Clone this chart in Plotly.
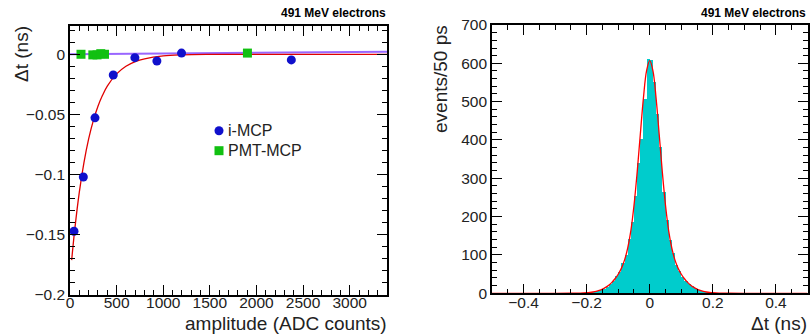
import plotly.graph_objects as go

# ---------------- data: left panel ----------------
imcp_amp = [43, 143, 268, 464, 696, 932, 1196, 2374]
imcp_dt = [-0.147, -0.102, -0.0528, -0.0172, -0.0028, -0.0056, 0.001, -0.0047]

pmt_amp = [118, 245, 290, 330, 370, 1903]
pmt_dt = [0.0, -0.0005, -0.0005, 0.0005, 0.0, 0.001]

fit_amp = [18, 50, 100, 150, 200, 250, 300, 350, 400, 500, 600, 700, 800, 1000, 1200, 1500, 2000, 3400]
fit_dt = [-0.171, -0.1463, -0.1146, -0.0898, -0.0703, -0.0551, -0.0432, -0.0339, -0.0265,
          -0.0163, -0.0100, -0.0061, -0.0038, -0.0014, -0.0005, -0.0001, 0.0, 0.0]

pmt_fit_amp = [0, 3400]
pmt_fit_dt = [0.0, 0.0022]

legend_labels = ["i-MCP", "PMT-MCP"]

# ---------------- data: right panel ----------------
bin_centers = [-0.195, -0.185, -0.175, -0.165, -0.155, -0.145, -0.135, -0.125, -0.115, -0.105,
               -0.095, -0.085, -0.075, -0.065, -0.055, -0.045, -0.035, -0.025, -0.015, -0.005,
               0.005, 0.015, 0.025, 0.035, 0.045, 0.055, 0.065, 0.075, 0.085, 0.095,
               0.105, 0.115, 0.125, 0.135, 0.145, 0.155, 0.165, 0.175, 0.185, 0.195]
bin_counts = [2, 3, 4, 6, 9, 12, 17, 24, 33, 46,
              55, 78, 100, 142, 185, 254, 340, 402, 507, 612,
              610, 552, 468, 383, 265, 190, 138, 104, 74, 57,
              42, 33, 24, 18, 13, 9, 6, 4, 3, 2]

hfit_x = [-0.5, -0.3, -0.25, -0.22, -0.20, -0.19, -0.18, -0.17, -0.16, -0.15, -0.14, -0.13, -0.12,
          -0.11, -0.10, -0.09, -0.08, -0.07, -0.06, -0.05, -0.04, -0.03, -0.02, -0.01, 0.0,
          0.01, 0.02, 0.03, 0.04, 0.05, 0.06, 0.07, 0.08, 0.09, 0.10, 0.11, 0.12, 0.13,
          0.14, 0.15, 0.16, 0.17, 0.18, 0.19, 0.20, 0.22, 0.25, 0.3, 0.5]
hfit_y = [0, 0, 0.1, 0.5, 1.4, 2.2, 3.4, 5.1, 7.6, 10.9, 15.4, 21.2, 28.6,
          38, 49.7, 65, 86.5, 117.5, 163, 229, 315, 414, 510, 581, 607,
          581, 510, 414, 315, 229, 163, 117.5, 86.5, 65, 49.7, 38, 28.6, 21.2,
          15.4, 10.9, 7.6, 5.1, 3.4, 2.2, 1.4, 0.5, 0.1, 0, 0]

FONT = "Liberation Sans, Arial, Helvetica, sans-serif"
W, H = 810, 335
BLUE = "#1010cc"
GREEN = "#11c011"

fig = go.Figure()

fig.add_trace(go.Scatter(x=pmt_fit_amp, y=pmt_fit_dt, mode="lines",
                         line=dict(color="#9966ff", width=2), showlegend=False,
                         xaxis="x", yaxis="y"))
fig.add_trace(go.Scatter(x=fit_amp, y=fit_dt, mode="lines", line_shape="spline",
                         line=dict(color="#e00000", width=1.3), showlegend=False,
                         xaxis="x", yaxis="y"))
fig.add_trace(go.Scatter(x=imcp_amp, y=imcp_dt, mode="markers", name=legend_labels[0],
                         marker=dict(color=BLUE, size=9, symbol="circle"),
                         showlegend=False, xaxis="x", yaxis="y"))
fig.add_trace(go.Scatter(x=pmt_amp, y=pmt_dt, mode="markers", name=legend_labels[1],
                         marker=dict(color=GREEN, size=9, symbol="square"),
                         showlegend=False, xaxis="x", yaxis="y"))

fig.add_trace(go.Bar(x=bin_centers, y=bin_counts, width=0.01,
                     marker=dict(color="#00cccc", line=dict(width=0)),
                     showlegend=False, xaxis="x2", yaxis="y2"))
fig.add_trace(go.Scatter(x=hfit_x, y=hfit_y, mode="lines", line_shape="spline",
                         line=dict(color="#ff0000", width=1.3), showlegend=False,
                         xaxis="x2", yaxis="y2"))

def ax(domain, rng, dtick, minor_dtick, anchor, standoff=0):
    return dict(domain=domain, range=rng, dtick=dtick, tick0=0, automargin=False,
                ticks="inside", ticklen=10, tickwidth=1.2, tickcolor="black",
                minor=dict(dtick=minor_dtick, ticks="inside", ticklen=5,
                           tickwidth=1.2, tickcolor="black"),
                showline=True, linecolor="black", linewidth=1.6, mirror="allticks",
                showgrid=False, zeroline=False, anchor=anchor,
                ticklabelstandoff=standoff,
                tickfont=dict(family=FONT, size=15.5, color="#222"))

fig.update_layout(
    width=W, height=H, margin=dict(l=0, r=0, t=0, b=0, autoexpand=False),
    paper_bgcolor="white", plot_bgcolor="white",
    bargap=0, showlegend=False,
    xaxis=ax([70 / W, 387 / W], [0, 3400], 500, 100, "y", -7),
    yaxis=ax([1 - 295 / H, 1 - 26 / H], [-0.2, 0.0235], 0.05, 0.01, "x"),
    xaxis2=ax([492 / W, 807.5 / W], [-0.5, 0.5], 0.2, 0.05, "y2", -6),
    yaxis2=ax([1 - 293.3 / H, 1 - 25 / H], [0, 700], 100, 20, "x2"),
)

# legend symbols (paper coords)
def px(x): return x / W
def py(y): return 1 - y / H
shapes = [
    dict(type="circle", xref="paper", yref="paper", x0=px(214.5), x1=px(223.5),
         y0=py(135.2), y1=py(126.2), fillcolor=BLUE, line=dict(width=0)),
    dict(type="rect", xref="paper", yref="paper", x0=px(214.5), x1=px(223.5),
         y0=py(155.2), y1=py(146.2), fillcolor=GREEN, line=dict(width=0)),
]
fig.update_layout(shapes=shapes)

ann = []
def txt(x, y, s, size, xanchor="center", angle=0, bold=False):
    ann.append(dict(x=x / W, y=1 - y / H, xref="paper", yref="paper", text=s,
                    showarrow=False, xanchor=xanchor, yanchor="middle", textangle=angle,
                    font=dict(family=FONT, size=size, color="#222" if not bold else "black")))

txt(226, 130.7, legend_labels[0], 16, "left")
txt(226, 150.7, legend_labels[1], 16, "left")
txt(388, 13, "<b>491 MeV electrons</b>", 12, "right", bold=True)
txt(808, 13, "<b>491 MeV electrons</b>", 12, "right", bold=True)
txt(389, 323, "amplitude (ADC counts)", 19, "right")
txt(809, 323, "Δt (ns)", 19, "right")
txt(21, 54, "Δt (ns)", 19, "center", angle=-90)
txt(440, 79, "events/50 ps", 19, "center", angle=-90)
fig.update_layout(annotations=ann)

fig.write_html("out.html")
